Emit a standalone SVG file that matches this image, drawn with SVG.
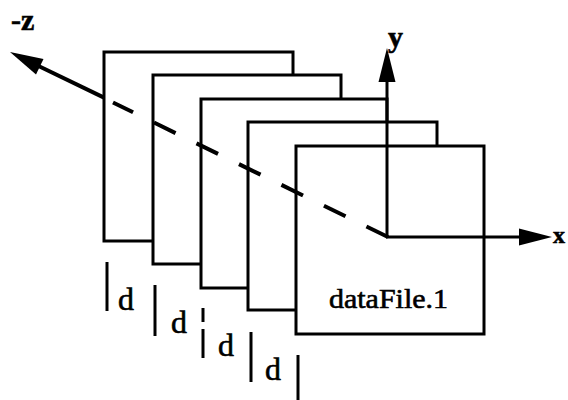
<svg xmlns="http://www.w3.org/2000/svg" width="568" height="400" viewBox="0 0 568 400">
  <style>
    .frame { fill: #ffffff; stroke: #000000; stroke-width: 3; }
    .axis { stroke: #000000; stroke-width: 3; fill: none; }
    .zaxis { stroke: #000000; stroke-width: 4; fill: none; }
    .head { fill: #000000; stroke: none; }
    .bar { stroke: #000000; stroke-width: 3; }
    text { font-family: 'Liberation Serif', 'Times New Roman', serif; fill: #000000; stroke: #000000; stroke-width: 0.6; }
  </style>
  <g id="frame1"><rect class="frame" x="104" y="52" width="189" height="189"/></g>
  <g id="frame2"><rect class="frame" x="153" y="75" width="188" height="189"/></g>
  <g id="frame3"><rect class="frame" x="201" y="99" width="186" height="189"/></g>
  <g id="frame4"><rect class="frame" x="248" y="122" width="189" height="188"/></g>
  <g id="frame5">
    <rect class="frame" x="296" y="146" width="188" height="188"/>
    <text x="329" y="308" font-size="28" textLength="119" lengthAdjust="spacingAndGlyphs">dataFile.1</text>
  </g>
  <g id="connectors">
    <line class="zaxis" x1="388" y1="237" x2="113" y2="102.5" stroke-dasharray="24 23.3"/>
    <line class="zaxis" x1="104" y1="97.6" x2="38" y2="65.7"/>
    <polygon class="head" points="10,52 43.5,59 36,74.5"/>
    <line class="axis" x1="387" y1="237" x2="387" y2="80"/>
    <polygon class="head" points="387,48 378.5,82 395.5,82"/>
    <line class="axis" x1="386" y1="237" x2="522" y2="237"/>
    <polygon class="head" points="552,237 519,228.5 519,245.5"/>
  </g>
  <g id="axis-labels" font-weight="bold" font-size="30">
    <text x="11" y="30">-z</text>
    <text x="388" y="47">y</text>
    <text x="553" y="243" font-size="24">x</text>
  </g>
  <g id="spacing" font-size="32">
    <line class="bar" x1="107" y1="262" x2="107" y2="311"/>
    <line class="bar" x1="155" y1="285" x2="155" y2="336"/>
    <line class="bar" x1="203" y1="308" x2="203" y2="322"/>
    <line class="bar" x1="203" y1="329" x2="203" y2="358"/>
    <line class="bar" x1="251" y1="332" x2="251" y2="382"/>
    <line class="bar" x1="298" y1="355" x2="298" y2="400"/>
    <text x="118" y="310">d</text>
    <text x="171" y="333">d</text>
    <text x="218" y="356">d</text>
    <text x="265" y="380">d</text>
  </g>
</svg>
